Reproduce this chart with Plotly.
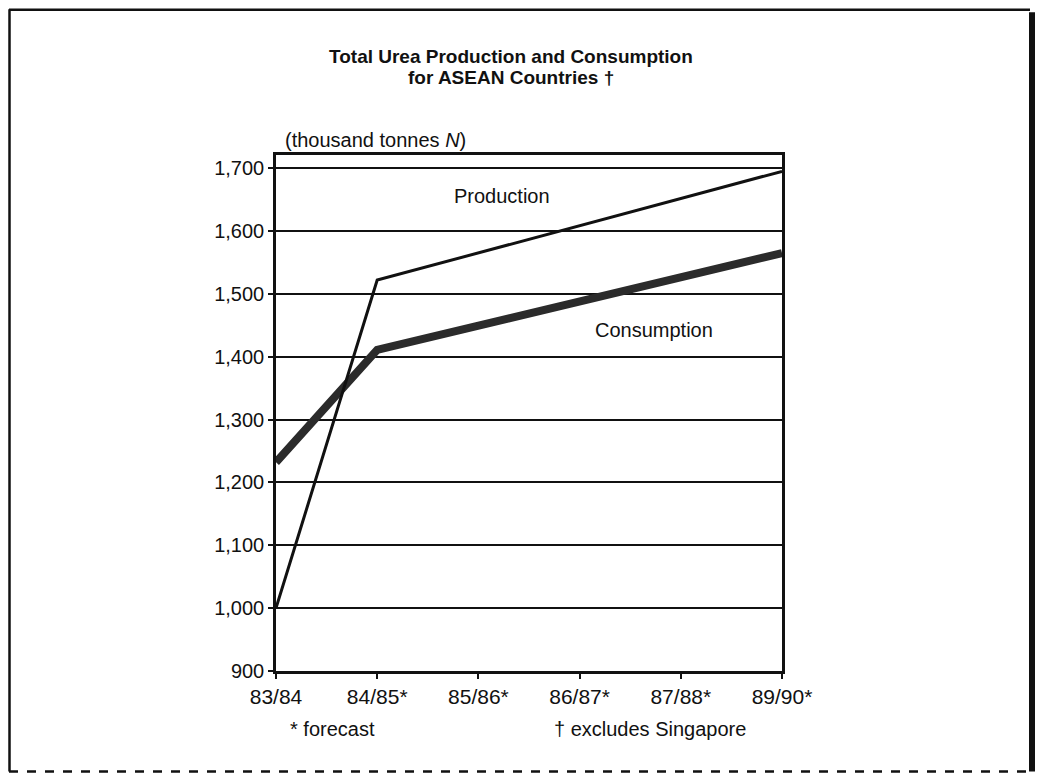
import plotly.graph_objects as go

categories = ["83/84", "84/85*", "85/86*", "86/87*", "87/88*", "89/90*"]
production = [1000, 1522, None, None, None, 1695]
consumption = [1232, 1411, None, None, None, 1565]
y_ticks = [900, 1000, 1100, 1200, 1300, 1400, 1500, 1600, 1700]

# page body keeps an 8px margin; figure sized so the page fits the window
W, H = 1028, 766
L, R, T, B = 268, 254, 147, 102.5
PW, PH = W - L - R, H - T - B


def px(x):
    return (x - L) / PW


def py(y):
    return 1 - (y - T) / PH


FONT = "Liberation Sans, Arial, sans-serif"
INK = "#111111"

fig = go.Figure()
fig.add_trace(go.Scatter(x=categories, y=consumption, mode="lines", connectgaps=True,
                         line=dict(color="#2b2b2b", width=8), showlegend=False))
fig.add_trace(go.Scatter(x=categories, y=production, mode="lines", connectgaps=True,
                         line=dict(color=INK, width=3), showlegend=False))

fig.update_layout(
    width=W, height=H,
    margin=dict(l=L, r=R, t=T, b=B, autoexpand=False),
    paper_bgcolor="white", plot_bgcolor="white",
    font=dict(family=FONT, color=INK, size=20),
    showlegend=False,
    xaxis=dict(type="category", range=[0, 5], showgrid=False, zeroline=False,
               showline=True, linecolor=INK, linewidth=3, mirror=True,
               ticks="outside", ticklen=5, tickcolor=INK, tickwidth=1.5,
               tickfont=dict(size=21), fixedrange=True),
    yaxis=dict(range=[900, 1721], tickvals=y_ticks, tickformat=",d",
               showgrid=True, gridcolor=INK, gridwidth=1.5, zeroline=False,
               showline=True, linecolor=INK, linewidth=2.5, mirror=True,
               ticks="outside", ticklen=5, tickcolor=INK, tickwidth=1.5,
               tickfont=dict(size=20), fixedrange=True),
)

for text, y in [("<b>Total Urea Production and Consumption</b>", 48),
                ("<b>for ASEAN Countries †</b>", 69)]:
    fig.add_annotation(xref="paper", yref="paper", x=px(503), y=py(y), text=text,
                       showarrow=False, xanchor="center", yanchor="middle", font=dict(size=19))

fig.add_annotation(xref="paper", yref="paper", x=px(275), y=py(132), text="(thousand tonnes <i>N</i>)",
                   showarrow=False, xanchor="left", yanchor="middle", font=dict(size=20))
fig.add_annotation(xref="x", yref="y", x=2.23, y=1656, text="Production",
                   showarrow=False, xanchor="center", yanchor="middle", font=dict(size=20))
fig.add_annotation(xref="x", yref="y", x=3.74, y=1443, text="Consumption",
                   showarrow=False, xanchor="center", yanchor="middle", font=dict(size=20))
fig.add_annotation(xref="paper", yref="paper", x=px(280), y=py(722), text="* forecast",
                   showarrow=False, xanchor="left", yanchor="middle", font=dict(size=20))
fig.add_annotation(xref="paper", yref="paper", x=px(544), y=py(722), text="† excludes Singapore",
                   showarrow=False, xanchor="left", yanchor="middle", font=dict(size=20))

# outer frame
fig.add_shape(type="line", xref="paper", yref="paper", x0=px(1), x1=px(1022), y0=py(1.5), y1=py(1.5),
              line=dict(color=INK, width=2.5))
fig.add_shape(type="line", xref="paper", yref="paper", x0=px(1.5), x1=px(1.5), y0=py(1), y1=py(764),
              line=dict(color=INK, width=2.5))
fig.add_shape(type="line", xref="paper", yref="paper", x0=px(1024), x1=px(1024), y0=py(4), y1=py(764),
              line=dict(color=INK, width=6))
fig.add_shape(type="line", xref="paper", yref="paper", x0=px(1), x1=px(1027), y0=py(764), y1=py(764),
              line=dict(color=INK, width=2.5, dash="dash"))

fig.write_html("out.html")
